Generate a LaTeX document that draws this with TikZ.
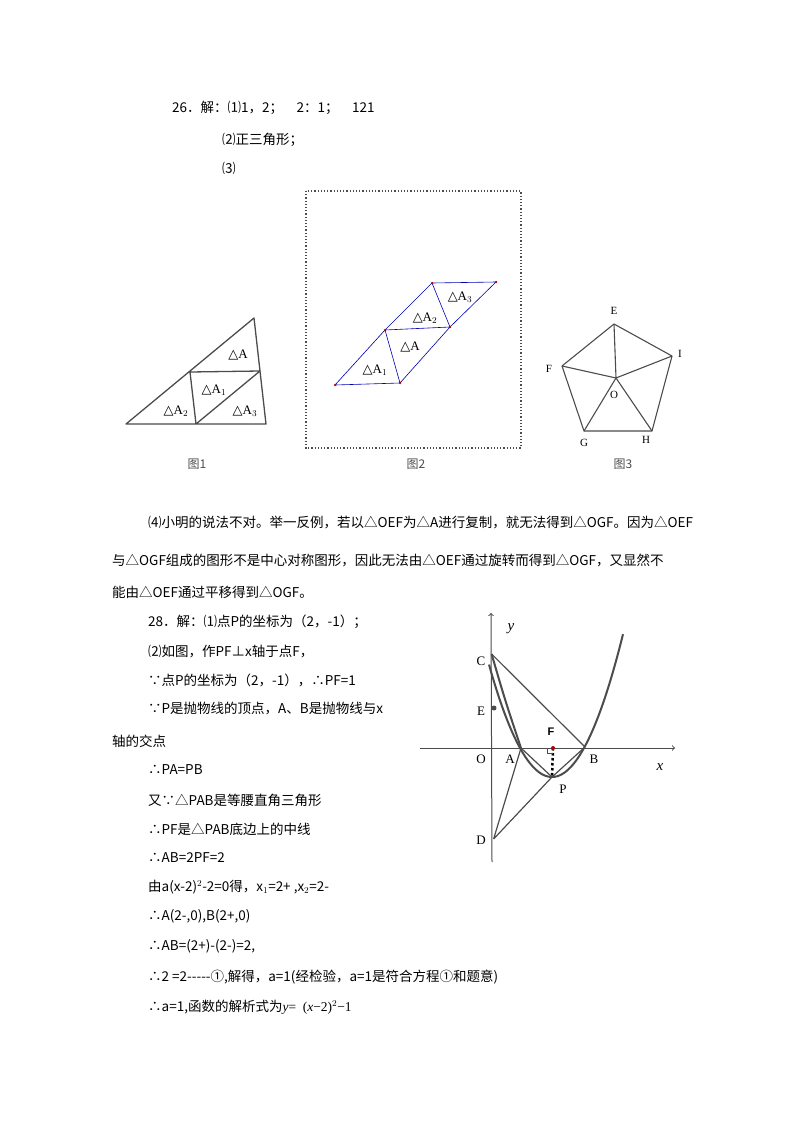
\documentclass[tikz,border=0pt]{standalone}
\usepackage{fontspec}
\setmainfont{Noto Sans CJK SC}
\newfontfamily\ser{Liberation Serif}
\newfontfamily\sns{Liberation Sans}
\newfontfamily\djvfont{DejaVu Sans}
\newcommand{\tri}{{\djvfont △}}
\begin{document}
\begin{tikzpicture}[x=1pt,y=-1pt,
 tx/.style={anchor=west,inner sep=0pt,font=\fontsize{13.5}{16}\selectfont},
 lb/.style={inner sep=0pt,font=\ser\fontsize{13}{15}\selectfont},
 gr/.style={draw=black!70,line width=1.3pt,line join=round},
 bl/.style={draw=blue!70!black,line width=0.6pt},
 rd/.style={fill=red!70!black,circle,inner sep=0pt,minimum size=2.5pt}]
\useasboundingbox (0,0) rectangle (800,1132);
% top text
\node[tx] (t1) at (172,108) {26．解：⑴1，2；\quad 2：1；\quad 121};
\node[tx] (t2) at (222,140) {⑵正三角形；};
\node[tx] (t3) at (222,168) {⑶};
% figure 1
\coordinate (a1) at (126,424); \coordinate (a2) at (254,318); \coordinate (a3) at (266,424);
\coordinate (m1) at (190,372); \coordinate (m2) at (260,371); \coordinate (m3) at (196,424);
\draw[gr] (a1)--(a2)--(a3)--cycle (m1)--(m2)--(m3)--cycle;
\node[lb] (l1) at (238,355) {\tri A};
\node[lb] (l2) at (214,390) {\tri A$_1$};
\node[lb] (l3) at (176,411) {\tri A$_2$};
\node[lb] (l4) at (245,411) {\tri A$_3$};
\node[lb,font=\fontsize{12}{14}\selectfont,text=black!70] (c1) at (197,464) {图1};
% figure 2
\draw[black!70,line width=1.2pt,dotted] (306,191) rectangle (521,448);
\coordinate (b1) at (335,385); \coordinate (b2) at (400,383); \coordinate (b3) at (385,330);
\coordinate (b4) at (450,327); \coordinate (b5) at (432,283); \coordinate (b6) at (496,282);
\draw[bl] (b1)--(b2)--(b4)--(b6)--(b5)--(b3)--cycle (b3)--(b4) (b3)--(b2) (b5)--(b4);
\foreach \p in {b1,b2,b3,b4,b5,b6} \node[rd] at (\p) {};
\node[lb] (l5) at (460,297) {\tri A$_3$};
\node[lb] (l6) at (425,318) {\tri A$_2$};
\node[lb] (l7) at (410,347) {\tri A};
\node[lb] (l8) at (375,370) {\tri A$_1$};
\node[lb,font=\fontsize{12}{14}\selectfont,text=black!70] (c2) at (416,464) {图2};
% figure 3
\coordinate (E) at (614,324); \coordinate (I) at (672,356); \coordinate (H) at (652,431);
\coordinate (G) at (584,431); \coordinate (F) at (562,366); \coordinate (O) at (616,378);
\draw[gr,line width=1.1pt] (E)--(I)--(H)--(G)--(F)--cycle;
\foreach \p in {E,I,H,G,F} \draw[gr,line width=1.1pt] (O)--(\p);
\node[lb,font=\ser\fontsize{11}{13}\selectfont] at (614,311) {E};
\node[lb,font=\ser\fontsize{11}{13}\selectfont] at (680,354) {I};
\node[lb,font=\ser\fontsize{11}{13}\selectfont] at (549,369) {F};
\node[lb,font=\ser\fontsize{11}{13}\selectfont] at (584,443) {G};
\node[lb,font=\ser\fontsize{11}{13}\selectfont] at (646,440) {H};
\node[lb,font=\ser\fontsize{11}{13}\selectfont] at (614,395) {O};
\node[lb,font=\fontsize{12}{14}\selectfont,text=black!70] (c3) at (623,464) {图3};
% paragraph 4
\node[tx] (p1) at (148,523) {⑷小明的说法不对。举一反例，若以△OEF为△A进行复制，就无法得到△OGF。因为△OEF};
\node[tx] (p2) at (112,560) {与△OGF组成的图形不是中心对称图形，因此无法由△OEF通过旋转而得到△OGF，又显然不};
\node[tx] (p3) at (112,592) {能由△OEF通过平移得到△OGF。};
% problem 28
\node[tx] (q1) at (148,622) {28．解：⑴点P的坐标为（2，-1）；};
\node[tx] (q2) at (148,652) {⑵如图，作PF⊥x轴于点F，};
\node[tx] (q3) at (148,680) {∵点P的坐标为（2，-1），∴PF=1};
\node[tx] (q4) at (148,709) {∵P是抛物线的顶点，A、B是抛物线与x};
\node[tx] (q5) at (112,741) {轴的交点};
\node[tx] (q6) at (148,770) {∴PA=PB};
\node[tx] (q7) at (148,800) {又∵△PAB是等腰直角三角形};
\node[tx] (q8) at (148,829) {∴PF是△PAB底边上的中线};
\node[tx] (q9) at (148,858) {∴AB=2PF=2};
\node[tx] (q10) at (148,887) {由a(x-2)$^2$-2=0得，x$_1$=2+ ,x$_2$=2-};
\node[tx] (q11) at (148,916) {∴A(2-,0),B(2+,0)};
\node[tx] (q12) at (148,946) {∴AB=(2+)-(2-)=2,};
\node[tx] (q13) at (148,977) {∴2 =2{-}{-}{-}{-}{-}①,解得，a=1(经检验，a=1是符合方程①和题意)};
\node[tx] (q14) at (148,1007) {∴a=1,函数的解析式为{\ser\itshape y}{\ser =\ \ (}{\ser\itshape x}{\ser −2)$^2$−1}};
% parabola figure
\coordinate (xs) at (420,748); \coordinate (xe) at (675,748);
\coordinate (ys) at (492,862); \coordinate (ye) at (491,613);
\coordinate (C) at (491.6,654); \coordinate (Ep) at (494,708); \coordinate (D) at (493.6,839);
\coordinate (A) at (521,748); \coordinate (B) at (585,747); \coordinate (P) at (552,777);
\coordinate (Fp) at (553,748);
\draw[gr,->,line width=1pt] (xs)--(xe);
\draw[gr,->,line width=1pt] (ys)--(ye);
\draw[gr,line width=2pt] plot[domain=489:623,samples=60,smooth] (\x,{777-29*((\x-552)/32)^2});
\draw[gr,line width=2pt] (C) .. controls (505,700) .. (A);
\draw[gr,line width=1.2pt] (C)--(B) (D)--(A) (D)--(P) (A)--(P)--(B);
\fill[black!70] (Ep) circle (2.5pt);
\draw[black,line width=2.5pt,dash pattern=on 2.5pt off 2.5pt] (Fp)--(P);
\draw[black!70,line width=0.6pt] (547,748)--(547,753)--(553,753);
\node[rd,minimum size=4pt] at (Fp) {};
\node[lb] (lC) at (481,661) {C};
\node[lb] (lE) at (481,711) {E};
\node[lb] (lO) at (481,759) {O};
\node[lb] (lA) at (510,759) {A};
\node[lb] (lB) at (594,759) {B};
\node[lb] (lP) at (563,789) {P};
\node[lb] (lD) at (481,840) {D};
\node[lb,font=\ser\itshape\fontsize{15}{17}\selectfont] (ly) at (511,629) {y};
\node[lb,font=\ser\itshape\fontsize{15}{17}\selectfont] (lx) at (660,767) {x};
\node[lb,font=\sns\bfseries\fontsize{11}{13}\selectfont] (lF) at (551,732) {F};
\end{tikzpicture}
\end{document}
